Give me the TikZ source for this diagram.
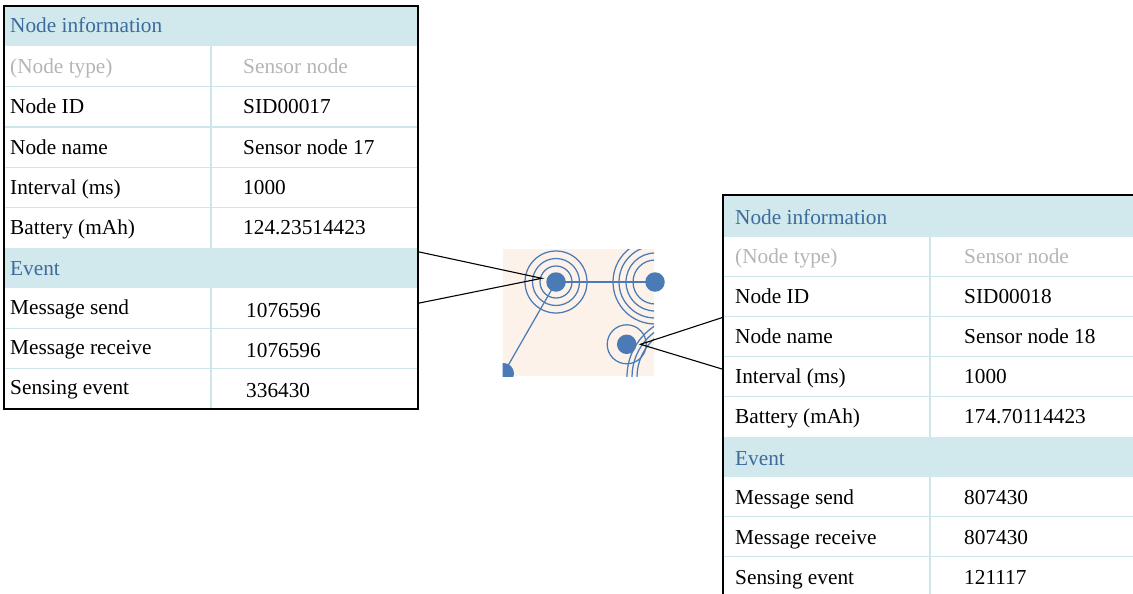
\documentclass[tikz,border=0pt]{standalone}
\usepackage{fontspec}
\setmainfont{Liberation Serif}
\definecolor{hdr}{HTML}{D1E8EC}
\definecolor{hdrtext}{HTML}{3C6B9E}
\definecolor{rulec}{HTML}{CFE5EC}
\definecolor{mute}{HTML}{B5B5B5}
\definecolor{wave}{HTML}{4A7BB7}
\definecolor{field}{HTML}{FCF2EA}
\tikzset{
  cell/.style={anchor=base west, inner sep=0pt, font=\fontsize{21.3}{25}\selectfont},
  hdrcell/.style={cell, text=hdrtext},
  mutecell/.style={cell, text=mute},
  frame/.style={draw=black, line width=1.1pt},
  sepline/.style={draw=rulec, line width=1.4pt},
  sensor/.style={circle, fill=wave, minimum size=19.5pt, inner sep=0pt},
  ring/.style={draw=wave, line width=1.25pt},
  link/.style={draw=wave, line width=1.25pt},
  callout/.style={draw=black, line width=1.1pt},
}
\begin{document}
\begin{tikzpicture}[x=1pt,y=-1pt]
\useasboundingbox (0,0) rectangle (1133,594);

% ---------------- left information table ----------------
\fill[hdr] (4,6) rectangle (418,46.3);
\fill[hdr] (4,247.8) rectangle (418,288.1);
\foreach \y in {86.6,126.9,167.2,207.5,328.4,368.7}
  \draw[sepline] (4,\y) -- (418,\y);
\draw[sepline] (211,46.3) -- (211,247.8);
\draw[sepline] (211,288.1) -- (211,409);
\draw[frame] (4,409) -- (4,6) -- (418,6) -- (418,409) -- cycle;

\node[hdrcell]  (l0a) at (10,32.8)  {Node information};
\node[mutecell] (l1a) at (10,73.5)  {(Node type)};
\node[mutecell] (l1b) at (243,73.5) {Sensor node};
\node[cell] (l2a) at (10,113.8)  {Node ID};
\node[cell] (l2b) at (243,113.8) {SID00017};
\node[cell] (l3a) at (10,154.1)  {Node name};
\node[cell] (l3b) at (243,154.1) {Sensor node 17};
\node[cell] (l4a) at (10,194.4)  {Interval (ms)};
\node[cell] (l4b) at (243,194.4) {1000};
\node[cell] (l5a) at (10,234.7)  {Battery (mAh)};
\node[cell] (l5b) at (243,234.7) {124.23514423};
\node[hdrcell] (l6a) at (10,275) {Event};
\node[cell] (l7a) at (10,314.3)  {Message send};
\node[cell] (l7b) at (246,317)   {1076596};
\node[cell] (l8a) at (10,354.6)  {Message receive};
\node[cell] (l8b) at (246,357.3) {1076596};
\node[cell] (l9a) at (10,394.9)  {Sensing event};
\node[cell] (l9b) at (246,397.6) {336430};

% ---------------- right information table ----------------
\fill[hdr] (723,195) rectangle (1140,236.7);
\fill[hdr] (723,436.7) rectangle (1140,476.7);
\foreach \y in {276.7,316.7,356.7,396.7,516.7,556.7}
  \draw[sepline] (723,\y) -- (1140,\y);
\draw[sepline] (930,236.7) -- (930,436.7);
\draw[sepline] (930,476.7) -- (930,600);
\draw[frame] (723,600) -- (723,195) -- (1140,195);

\node[hdrcell]  (r0a) at (735,224) {Node information};
\node[mutecell] (r1a) at (735,263.5) {(Node type)};
\node[mutecell] (r1b) at (964,263.5) {Sensor node};
\node[cell] (r2a) at (735,303.5) {Node ID};
\node[cell] (r2b) at (964,303.5) {SID00018};
\node[cell] (r3a) at (735,343.5) {Node name};
\node[cell] (r3b) at (964,343.5) {Sensor node 18};
\node[cell] (r4a) at (735,383.5) {Interval (ms)};
\node[cell] (r4b) at (964,383.5) {1000};
\node[cell] (r5a) at (735,423.5) {Battery (mAh)};
\node[cell] (r5b) at (964,423.5) {174.70114423};
\node[hdrcell] (r6a) at (735,465) {Event};
\node[cell] (r7a) at (735,504.5) {Message send};
\node[cell] (r7b) at (964,504.5) {807430};
\node[cell] (r8a) at (735,544.5) {Message receive};
\node[cell] (r8b) at (964,544.5) {807430};
\node[cell] (r9a) at (735,584.5) {Sensing event};
\node[cell] (r9b) at (964,584.5) {121117};

% ---------------- sensor field ----------------
\fill[field] (503,249) rectangle (654,375.5);
\coordinate (A) at (556,282);
\coordinate (B) at (655,282);
\coordinate (C) at (626.7,344.3);
\coordinate (D) at (688,377);
\coordinate (E) at (503.5,373.5);

\draw[link] (A) -- (B);
\draw[link] (A) -- (E);

\foreach \r in {16,23.5,31} \draw[ring] (A) circle[radius=\r];
\draw[ring] (C) circle[radius=19.5];
\begin{scope}
  \clip (502.5,249) rectangle (654,376.5);
  \foreach \r in {22,29,36,42} \draw[ring] (B) circle[radius=\r];
  \foreach \r in {51,56,61} \draw[ring] (D) circle[radius=\r];
  \node[sensor, minimum size=21pt] (nE) at (E) {};
\end{scope}
\node[sensor] (nA) at (A) {};
\node[sensor] (nB) at (B) {};
\node[sensor] (nC) at (C) {};

% ---------------- callouts ----------------
\coordinate (lt) at (418,251.7);
\coordinate (lb) at (418,303.3);
\coordinate (pa) at (541.7,278.3);
\draw[callout] (lt) -- (pa) -- (lb);
\coordinate (rt) at (723,317.3);
\coordinate (rb) at (723,369.3);
\coordinate (pc) at (640.5,344.3);
\draw[callout] (rt) -- (pc) -- (rb);
\end{tikzpicture}
\end{document}
